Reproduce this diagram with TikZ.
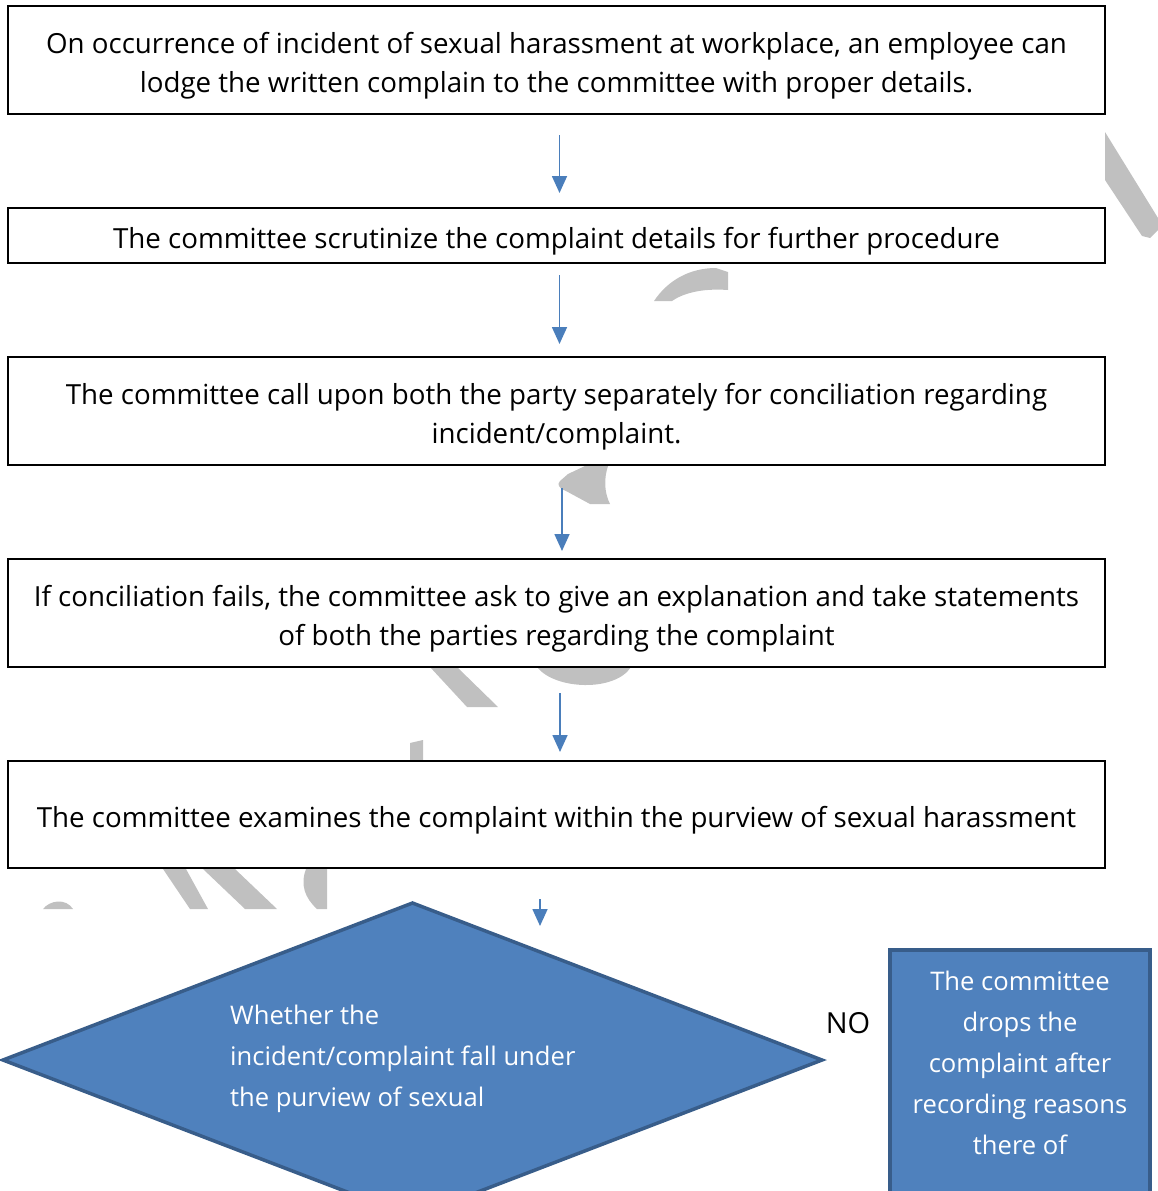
\documentclass[tikz,border=0pt]{standalone}
\usepackage{fontspec}
\setmainfont{Open Sans}
\usetikzlibrary{arrows.meta,shapes.geometric}

\definecolor{flowblue}{HTML}{4A7EBB}
\definecolor{fillblue}{HTML}{4F81BD}
\definecolor{edgeblue}{HTML}{385D8A}
\definecolor{markgrey}{HTML}{C0C0C0}

% pushes a box text a little down
\newcommand{\lowtext}{\rule{0pt}{33pt}}

\begin{document}
\begin{tikzpicture}[x=1pt, y=-1pt,
    stepbox/.style={draw=black, line width=2pt, fill=white, minimum width=1097pt,
        align=center, inner sep=0pt, font=\fontsize{27.7}{39}\selectfont},
    flow/.style={draw=flowblue, line width=1.7pt, -{Triangle[length=17pt,width=15pt]}},
    bluebox/.style={draw=edgeblue, line width=3.5pt, fill=fillblue, inner sep=0pt, outer sep=0pt},
    whitetext/.style={text=white, inner sep=0pt, font=\fontsize{25.6}{41}\selectfont}]

    \useasboundingbox (0,0) rectangle (1158,1191);
    \clip (0,0) rectangle (1158,1191);

    % watermark pieces
    \fill[markgrey] (1105,132) -- (1158,218) -- (1158,230) -- (1150,238) -- (1142,236) -- (1105,180) -- cycle;
    \fill[markgrey] (654,301) .. controls (668,280) and (690,268) .. (716,268) -- (728,272) -- (728,290)
        .. controls (700,288) and (682,294) .. (672,301) -- cycle;
    \fill[markgrey] (560,481) -- (568,474) -- (585,466) -- (608,466) .. controls (604,478) and (604,492) .. (610,504)
        -- (590,504) -- (566,491) .. controls (558,488) and (557,484) .. (560,481) -- cycle;
    \fill[markgrey] (430,667) -- (457,667) -- (498,707) -- (467,707) -- cycle;
    \fill[markgrey] (537,667) .. controls (555,690) and (615,692) .. (631,667) -- cycle;
    \fill[markgrey] (410,743) -- (423,740) -- (423,761) -- (410,761) -- cycle;
    \fill[markgrey] (43,909) .. controls (50,900) and (66,898) .. (73,909) -- cycle;
    \fill[markgrey] (163,869) -- (186,869) -- (208,909) -- (190,909) -- cycle;
    \fill[markgrey] (203,869) -- (235,869) -- (277,909) -- (245,909) -- cycle;
    \fill[markgrey] (306,869) -- (327,869) -- (327,909) -- (317,909) .. controls (305,898) and (300,885) .. (306,869) -- cycle;

    % steps
    \node[stepbox, minimum height=108pt] (lodge) at (556.5,60)
        {\lowtext On occurrence of incident of sexual harassment at workplace, an employee can\\
         lodge the written complain to the committee with proper details.};
    \node[stepbox, minimum height=55pt] (scrutiny) at (556.5,235.5)
        {\lowtext The committee scrutinize the complaint details for further procedure};
    \node[stepbox, minimum height=108pt] (conciliate) at (556.5,411)
        {\lowtext The committee call upon both the party separately for conciliation regarding\\
         incident/complaint.};
    \node[stepbox, minimum height=108pt] (explain) at (556.5,613)
        {\lowtext If conciliation fails, the committee ask to give an explanation and take statements\\
         of both the parties regarding the complaint};
    \node[stepbox, minimum height=107pt] (examine) at (556.5,814.5)
        {\lowtext The committee examines the complaint within the purview of sexual harassment};

    % decision and outcome
    \node[bluebox, shape=diamond, minimum width=819pt, minimum height=314pt] (query) at (412.5,1060) {};
    \node[whitetext, anchor=north west, align=left] (querytext) at (230,1005)
        {Whether the\\incident/complaint fall under\\the purview of sexual};
    \node[font=\fontsize{29}{39}\selectfont, inner sep=0pt] (no) at (848,1023) {NO};
    \node[bluebox, anchor=north west, minimum width=260pt, minimum height=262pt] (drop) at (890,950) {};
    \node[whitetext, align=center] (droptext) at (1020,1063)
        {The committee\\drops the\\complaint after\\recording reasons\\there of};

    % arrows
    \coordinate (tip) at (540,926);
    \draw[flow, shorten <=20pt, shorten >=14pt] ([xshift=3pt]lodge.south) -- ([xshift=3pt]scrutiny.north);
    \draw[flow, shorten <=11pt, shorten >=12pt] ([xshift=3pt]scrutiny.south) -- ([xshift=3pt]conciliate.north);
    \draw[flow, shorten <=22pt, shorten >=7pt] ([xshift=5.5pt]conciliate.south) -- ([xshift=5.5pt]explain.north);
    \draw[flow, shorten <=25pt, shorten >=8pt] ([xshift=3.5pt]explain.south) -- ([xshift=3.5pt]examine.north);
    \draw[flow, shorten <=30pt] (examine.south -| tip) -- (tip);

\end{tikzpicture}
\end{document}
